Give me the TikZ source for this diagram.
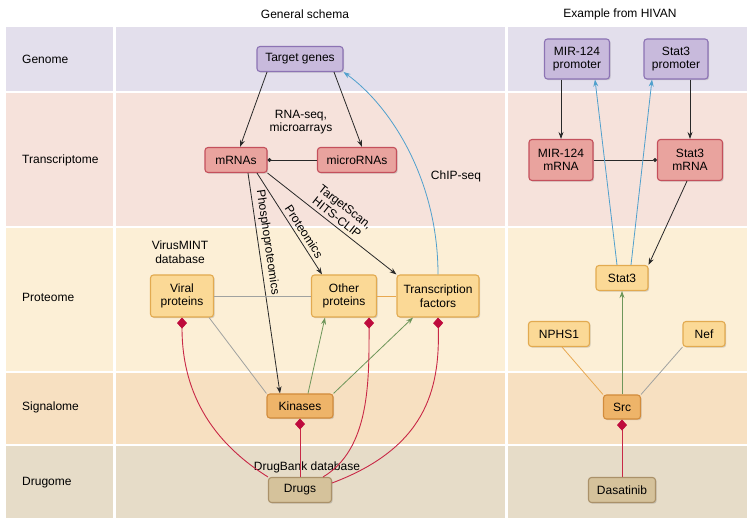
\documentclass[tikz,border=0pt]{standalone}
\usepackage{fontspec}
\setmainfont{Liberation Sans}
\usetikzlibrary{arrows.meta, positioning, shadows, calc}

\definecolor{genomebg}{RGB}{227,223,236}
\definecolor{transbg}{RGB}{246,226,219}
\definecolor{protbg}{RGB}{252,239,214}
\definecolor{signbg}{RGB}{247,224,193}
\definecolor{drugbg}{RGB}{230,220,200}
\definecolor{genefill}{RGB}{200,186,220}
\definecolor{genedraw}{RGB}{140,115,180}
\definecolor{rnafill}{RGB}{233,163,158}
\definecolor{rnadraw}{RGB}{196,80,92}
\definecolor{protfill}{RGB}{251,217,150}
\definecolor{protdraw}{RGB}{226,170,80}
\definecolor{kinfill}{RGB}{238,180,105}
\definecolor{kindraw}{RGB}{210,140,60}
\definecolor{drugfill}{RGB}{213,194,155}
\definecolor{drugdraw}{RGB}{170,145,105}
\definecolor{linkblack}{RGB}{40,40,40}
\definecolor{chipblue}{RGB}{80,160,205}
\definecolor{kingreen}{RGB}{110,150,90}
\definecolor{ppigray}{RGB}{160,162,160}
\definecolor{ppiorange}{RGB}{232,168,80}
\definecolor{drugred}{RGB}{200,40,70}
\definecolor{diamondred}{RGB}{190,10,60}

\begin{document}
\begin{tikzpicture}[
    x=1pt, y=1pt,
    font=\fontsize{12}{13.5}\selectfont,
    cellbox/.style={
        rectangle,
        rounded corners=3pt,
        line width=1.1pt,
        minimum height=25pt,
        inner sep=2pt,
        align=center,
        drop shadow={shadow xshift=1.2pt, shadow yshift=-1.2pt, opacity=0.3}
    },
    genebox/.style={cellbox, fill=genefill, draw=genedraw},
    rnabox/.style={cellbox, fill=rnafill, draw=rnadraw},
    protbox/.style={cellbox, fill=protfill, draw=protdraw},
    kinbox/.style={cellbox, fill=kinfill, draw=kindraw},
    drugbox/.style={cellbox, fill=drugfill, draw=drugdraw},
    rowlabel/.style={anchor=west, inner sep=1pt},
    remark/.style={align=center, inner sep=1pt},
    expr/.style={line width=0.8pt, draw=linkblack, -{Stealth[length=7pt,width=5pt]}},
    bind/.style={line width=0.8pt, draw=linkblack, -{Circle[length=4pt]}},
    chip/.style={line width=0.8pt, draw=chipblue, -{Stealth[length=7pt,width=5pt]}},
    activ/.style={line width=0.8pt, draw=kingreen, -{Stealth[length=7pt,width=5pt]}},
    ppi/.style={line width=0.8pt, draw=ppigray},
    ppo/.style={line width=0.8pt, draw=ppiorange},
    drugline/.style={line width=0.9pt, draw=drugred, -{Diamond[length=11pt,width=10pt,color=diamondred]}}
]
    \useasboundingbox (0,0) rectangle (755,-526);

    % Background bands
    \foreach \ytop/\ybot/\col in {27/91/genomebg, 93/226/transbg, 228/371/protbg, 373/444/signbg, 446/518/drugbg} {
        \fill[\col] (6,-\ytop) rectangle (113,-\ybot);
        \fill[\col] (116,-\ytop) rectangle (505,-\ybot);
        \fill[\col] (508,-\ytop) rectangle (747,-\ybot);
    }

    % Titles and row labels
    \node (title_gen) at (305,-14) {General schema};
    \node (title_hiv) at (620,-14) {Example from HIVAN};
    \foreach \y/\name in {59/Genome, 160/Transcriptome, 297/Proteome, 407/Signalome, 483/Drugome} {
        \node[rowlabel] (lbl_\name) at (21,-\y) {\name};
    }

    % GENERAL SCHEMA nodes
    \node[genebox, minimum width=86pt] (tg) at (300,-59) {Target genes};
    \node[rnabox, minimum width=62pt] (mrna) at (236,-160) {mRNAs};
    \node[rnabox, minimum width=79pt] (mirna) at (357,-160) {microRNAs};
    \node[protbox, minimum width=63pt, minimum height=42pt] (vp) at (182,-296) {Viral\\proteins};
    \node[protbox, minimum width=65pt, minimum height=42pt] (op) at (344,-296) {Other\\proteins};
    \node[protbox, minimum width=82pt, minimum height=42pt] (tf) at (438,-296) {Transcription\\factors};
    \node[kinbox, minimum width=66pt, minimum height=24pt] (kin) at (300,-406) {Kinases};
    \node[drugbox, minimum width=63pt] (drugs) at (300,-490) {Drugs};

    \node[remark] (rnaseq) at (301,-122) {RNA-seq,\\microarrays};
    \node[remark] (chipseq) at (456,-176) {ChIP-seq};
    \node[remark] (virusmint) at (180,-252) {VirusMINT\\database};
    \node[remark] (drugbank) at (307,-467) {DrugBank database};

    % HIVAN nodes
    \node[genebox, minimum width=65pt, minimum height=40pt] (mirp) at (577,-59) {MIR-124\\promoter};
    \node[genebox, minimum width=64pt, minimum height=40pt] (statp) at (676,-59) {Stat3\\promoter};
    \node[rnabox, minimum width=64pt, minimum height=41pt] (mirm) at (561,-160) {MIR-124\\mRNA};
    \node[rnabox, minimum width=65pt, minimum height=41pt] (statm) at (690,-160) {Stat3\\mRNA};
    \node[protbox, minimum width=52pt] (stat) at (622,-278) {Stat3};
    \node[protbox, minimum width=61pt] (nphs) at (559,-334) {NPHS1};
    \node[protbox, minimum width=42pt] (nef) at (704,-334) {Nef};
    \node[kinbox, minimum width=37pt, minimum height=24pt] (src) at (622,-407) {Src};
    \node[drugbox, minimum width=67pt] (dasa) at (622,-490) {Dasatinib};

    % General schema connectors
    \draw[expr] ([xshift=-33pt]tg.south) -- ([xshift=4pt]mrna.north);
    \draw[expr] ([xshift=34pt]tg.south) -- ([xshift=5pt]mirna.north);
    \draw[bind] (mirna.west) -- (mrna.east);
    \draw[expr] ([xshift=12pt]mrna.south) -- node[above, sloped, pos=0.32] {Phosphoproteomics} ([xshift=-20pt]kin.north);
    \draw[expr] ([xshift=21pt]mrna.south) -- node[above, sloped, pos=0.62] {Proteomics} ([xshift=-22pt]op.north);
    \draw[expr] (mrna.south east) -- node[above, sloped, align=center, pos=0.5] {TargetScan,\\HITS-CLIP} (tf.north west);
    \draw[chip] (tf.north) .. controls +(0,95) and +(47,-34) .. (tg.south east);
    \draw[ppi] (vp.east) -- (op.west);
    \draw[ppo] (op.east) -- (tf.west);
    \draw[ppi] ([xshift=-5pt]vp.south east) -- (kin.north west);
    \draw[activ] ([xshift=8pt]kin.north) -- ([xshift=-19pt]op.south);
    \draw[activ] (kin.north east) -- ([xshift=-25pt]tf.south);

    % Drug targets
    \draw[drugline] (drugs.north west) .. controls +(-43,27) and +(0,-88) .. (vp.south);
    \draw[drugline] (drugs.north) -- (kin.south);
    \draw[drugline] ([xshift=-9pt]drugs.north east) .. controls +(47,28) and +(0,-63) .. ([xshift=-8pt]op.south east);
    \draw[drugline] ([yshift=7pt]drugs.east) .. controls +(93,35) and +(2,-73) .. (tf.south);

    % HIVAN connectors
    \draw[expr] (mirp.south -| mirm.north) -- (mirm.north);
    \draw[expr] (statp.south -| statm.north) -- (statm.north);
    \draw[bind] (mirm.east) -- (statm.west);
    \draw[expr] ([xshift=-3pt]statm.south) -- (stat.north east);
    \draw[chip] ([xshift=-5pt]stat.north) -- ([xshift=18pt]mirp.south);
    \draw[chip] ([xshift=9pt]stat.north) -- ([xshift=-24pt]statp.south);
    \draw[activ] (src.north) -- (stat.south);
    \draw[ppo] ([xshift=3pt]nphs.south) -- (src.north west);
    \draw[ppi] (nef.south west) -- (src.north east);
    \draw[drugline] (dasa.north) -- (src.south);
\end{tikzpicture}
\end{document}
